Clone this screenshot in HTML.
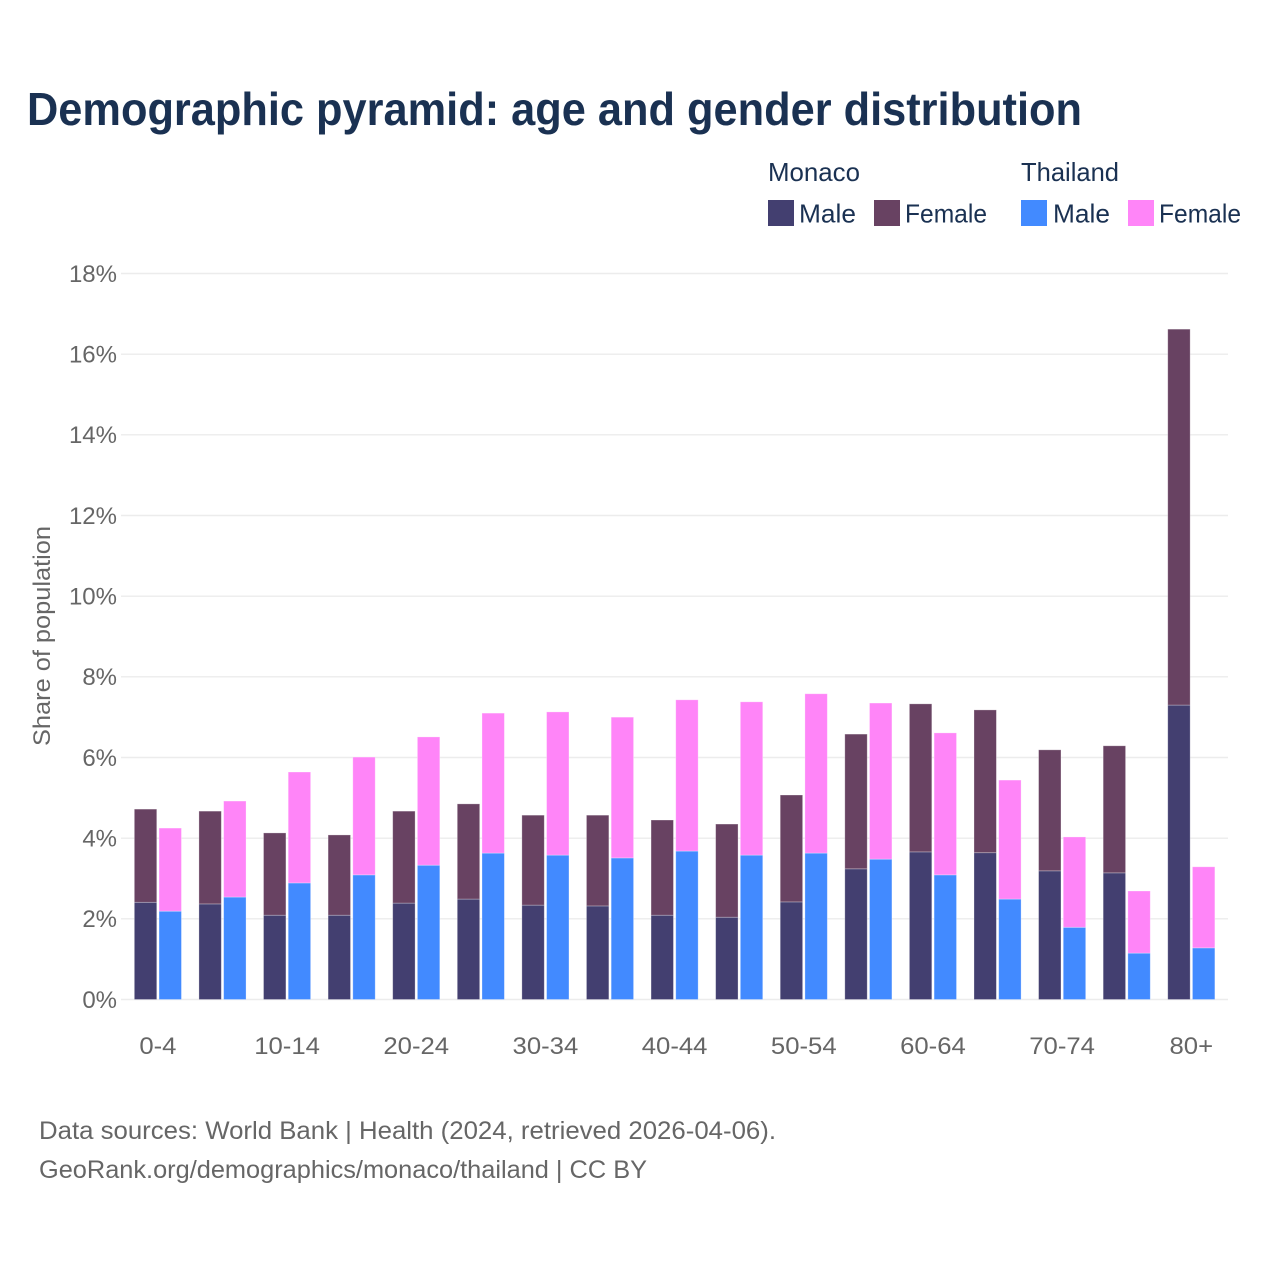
<!DOCTYPE html>
<html lang="en">
<head>
<meta charset="utf-8">
<title>Demographic pyramid: age and gender distribution</title>
<style>
html,body{margin:0;padding:0;background:#fff;width:1280px;height:1280px;overflow:hidden}
svg{display:block;font-family:"Liberation Sans",Arial,sans-serif}
</style>
</head>
<body>
<svg id="chart" width="1280" height="1280" viewBox="0 0 1280 1280" xmlns="http://www.w3.org/2000/svg">
  <rect x="0" y="0" width="1280" height="1280" fill="#ffffff"/>
  <text x="27" y="125" font-size="46" font-weight="700" fill="#1a3152" textLength="1055" lengthAdjust="spacingAndGlyphs">Demographic pyramid: age and gender distribution</text>

  <g font-size="26" fill="#1a3152">
    <text x="768" y="181" textLength="92" lengthAdjust="spacingAndGlyphs">Monaco</text>
    <text x="1021" y="181" textLength="98" lengthAdjust="spacingAndGlyphs">Thailand</text>
    <rect x="768" y="200" width="26" height="26" fill="#433f70"/>
    <text x="799" y="222.5" textLength="57" lengthAdjust="spacingAndGlyphs">Male</text>
    <rect x="874" y="200" width="26" height="26" fill="#684262"/>
    <text x="905" y="222.5" textLength="82" lengthAdjust="spacingAndGlyphs">Female</text>
    <rect x="1021" y="200" width="26" height="26" fill="#428aff"/>
    <text x="1053" y="222.5" textLength="57" lengthAdjust="spacingAndGlyphs">Male</text>
    <rect x="1128" y="200" width="26" height="26" fill="#ff85f8"/>
    <text x="1159" y="222.5" textLength="82" lengthAdjust="spacingAndGlyphs">Female</text>
  </g>

  <g id="grid"></g>
  <g id="y-axis"></g>
  <g id="bars"></g>
  <g id="x-axis"></g>

  <text transform="translate(50,636) rotate(-90)" text-anchor="middle" font-size="24" fill="#666666" textLength="220" lengthAdjust="spacingAndGlyphs">Share of population</text>

  <text x="39" y="1139" font-size="25" fill="#666666" textLength="737" lengthAdjust="spacingAndGlyphs">Data sources: World Bank | Health (2024, retrieved 2026-04-06).</text>
  <text x="39" y="1178" font-size="25" fill="#666666" textLength="608" lengthAdjust="spacingAndGlyphs">GeoRank.org/demographics/monaco/thailand | CC BY</text>
</svg>
<script>
const categories = ['0-4','5-9','10-14','15-19','20-24','25-29','30-34','35-39','40-44','45-49','50-54','55-59','60-64','65-69','70-74','75-79','80+'];
const monacoMale = [2.41,2.37,2.09,2.09,2.39,2.49,2.34,2.32,2.09,2.04,2.42,3.24,3.66,3.64,3.19,3.14,7.30];
const monacoFemale = [2.31,2.30,2.04,1.99,2.28,2.36,2.23,2.25,2.36,2.31,2.65,3.34,3.67,3.54,3.00,3.15,9.32];
const thailandMale = [2.19,2.54,2.89,3.09,3.33,3.63,3.58,3.51,3.68,3.58,3.63,3.48,3.09,2.49,1.79,1.15,1.28];
const thailandFemale = [2.06,2.38,2.75,2.92,3.18,3.47,3.55,3.49,3.75,3.80,3.95,3.87,3.52,2.95,2.24,1.54,2.01];
const yTicks = [0,2,4,6,8,10,12,14,16,18];

const NS = 'http://www.w3.org/2000/svg';
const plotLeft = 125.6, plotRight = 1223.6, plotBottom = 999.5, plotTop = 273.5, yMax = 18;
const step = (plotRight - plotLeft) / categories.length;
const barW = 22.4, barGap = 2.3;
const yScale = v => plotBottom - (v / yMax) * (plotBottom - plotTop);
const xCenter = i => plotLeft + step * (i + 0.5);

const grid = document.getElementById('grid');
const yAxis = document.getElementById('y-axis');
const xAxis = document.getElementById('x-axis');
const barsG = document.getElementById('bars');

yTicks.forEach(t => {
  const line = document.createElementNS(NS, 'line');
  
  
  line.setAttribute('x1', 121);
  line.setAttribute('x2', 1228);
  line.setAttribute('y1', yScale(t));
  line.setAttribute('y2', yScale(t));
  line.setAttribute('stroke', '#ececec');
  line.setAttribute('stroke-width', 1.4);
  grid.appendChild(line);

  const label = document.createElementNS(NS, 'text');
  
  
  label.setAttribute('x', 117);
  label.setAttribute('y', yScale(t) + 8.4);
  label.setAttribute('text-anchor', 'end');
  label.setAttribute('font-size', 24);
  label.setAttribute('fill', '#666666');
  label.textContent = t + '%';
  yAxis.appendChild(label);
});

function addBar(x, base, value, fill) {
  const r = document.createElementNS(NS, 'rect');
  
  
  r.setAttribute('x', x);
  r.setAttribute('y', yScale(base + value));
  r.setAttribute('width', barW);
  r.setAttribute('height', yScale(base) - yScale(base + value));
  r.setAttribute('fill', fill);
  r.setAttribute('stroke', '#ffffff');
  r.setAttribute('stroke-opacity', 0.35);
  r.setAttribute('stroke-width', 0.8);
  barsG.appendChild(r);
}

categories.forEach((c, i) => {
  const cx = xCenter(i);
  const x1 = cx - barW - barGap / 2;
  const x2 = cx + barGap / 2;
  addBar(x1, 0, monacoMale[i], '#433f70');
  addBar(x1, monacoMale[i], monacoFemale[i], '#684262');
  addBar(x2, 0, thailandMale[i], '#428aff');
  addBar(x2, thailandMale[i], thailandFemale[i], '#ff85f8');

  if (i % 2 === 0) {
    const label = document.createElementNS(NS, 'text');
    
    
    label.setAttribute('x', cx);
    label.setAttribute('y', 1054);
    label.setAttribute('text-anchor', 'middle');
    label.setAttribute('font-size', 24);
    label.setAttribute('fill', '#666666');
    label.textContent = c;
    xAxis.appendChild(label);
    const w = label.getComputedTextLength();
    label.setAttribute('textLength', (w * 1.07).toFixed(1));
    label.setAttribute('lengthAdjust', 'spacingAndGlyphs');
  }
});
</script>
</body>
</html>
